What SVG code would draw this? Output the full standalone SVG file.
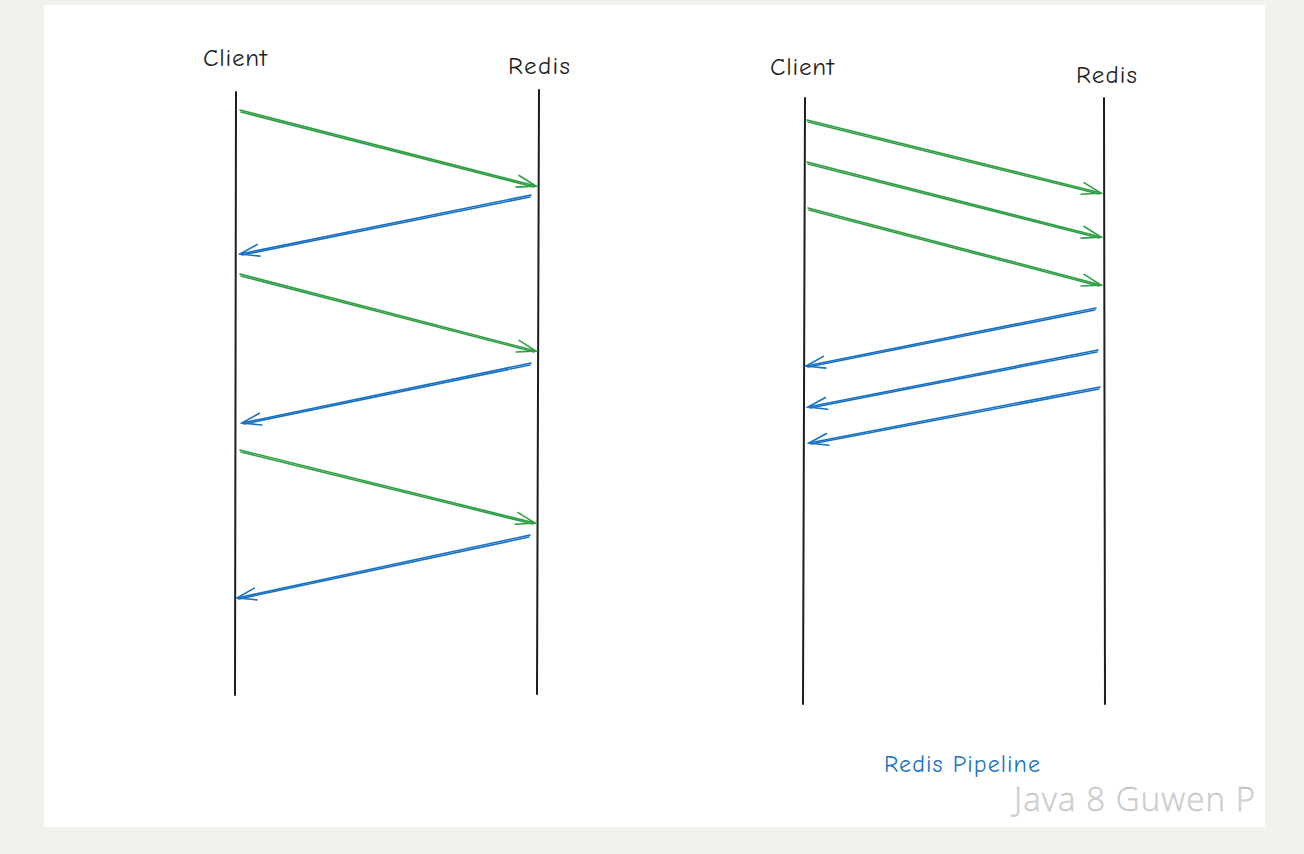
<svg xmlns="http://www.w3.org/2000/svg" width="1304" height="854" viewBox="0 0 1304 854">
<defs>
<style>
.life{stroke:#1e1e1e;stroke-width:2;fill:none;stroke-linecap:round}
.req{stroke:#2f9e44;stroke-width:1.6;fill:none;stroke-linecap:round}
.res{stroke:#1971c2;stroke-width:1.6;fill:none;stroke-linecap:round}
.lbl{font-family:"Comic Neue","Liberation Sans",sans-serif;font-size:25px;fill:#1e1e1e}
.cap{font-family:"Comic Neue","Liberation Sans",sans-serif;font-size:24px;fill:#1971c2}
.wm{font-family:"Open Sans","Noto Sans",sans-serif;font-size:33px;font-weight:300;fill:#d4d4d4;stroke:#b0b0b0;stroke-width:0.3}
</style>
<marker id="ag" viewBox="-20 -8 22 16" refX="0" refY="0" markerWidth="22" markerHeight="16" markerUnits="userSpaceOnUse" orient="auto">
<path d="M-19,-6 L0,0 L-19,6" fill="none" stroke="#2f9e44" stroke-width="1.6" stroke-linecap="round"/>
</marker>
<marker id="ab" viewBox="-20 -8 22 16" refX="0" refY="0" markerWidth="22" markerHeight="16" markerUnits="userSpaceOnUse" orient="auto">
<path d="M-19,-6 L0,0 L-19,6" fill="none" stroke="#1971c2" stroke-width="1.6" stroke-linecap="round"/>
</marker>
</defs>
<rect x="0" y="0" width="1304" height="854" fill="#f2f1ed"/>
<rect x="44" y="5" width="1221" height="822" fill="#ffffff"/>

<g id="left-client">
<line class="life" x1="236" y1="92" x2="235" y2="695"/>
<text class="lbl" x="203" y="66" textLength="64">Client</text>
</g>
<g id="left-redis">
<line class="life" x1="539" y1="90" x2="537" y2="694"/>
<text class="lbl" x="508" y="74" textLength="62">Redis</text>
</g>
<g id="right-client">
<line class="life" x1="805" y1="98" x2="803" y2="704"/>
<text class="lbl" x="770" y="75" textLength="64">Client</text>
</g>
<g id="right-redis">
<line class="life" x1="1104" y1="98" x2="1105" y2="704"/>
<text class="lbl" x="1076" y="83" textLength="61">Redis</text>
</g>

<g id="connectors">
<line class="req" x1="240" y1="110" x2="536" y2="186" marker-end="url(#ag)"/>
<line class="req" x1="241" y1="112" x2="534" y2="187"/>
<line class="res" x1="531" y1="195" x2="240" y2="254" marker-end="url(#ab)"/>
<line class="res" x1="530" y1="197" x2="242" y2="255"/>
<line class="req" x1="240" y1="274" x2="536" y2="351" marker-end="url(#ag)"/>
<line class="req" x1="241" y1="276" x2="534" y2="352"/>
<line class="res" x1="531" y1="363" x2="242" y2="423" marker-end="url(#ab)"/>
<line class="res" x1="530" y1="365" x2="244" y2="424"/>
<line class="req" x1="240" y1="450" x2="535" y2="523" marker-end="url(#ag)"/>
<line class="req" x1="241" y1="452" x2="533" y2="524"/>
<line class="res" x1="530" y1="535" x2="237" y2="598" marker-end="url(#ab)"/>
<line class="res" x1="529" y1="537" x2="239" y2="599"/>

<line class="req" x1="807" y1="120" x2="1101" y2="193" marker-end="url(#ag)"/>
<line class="req" x1="808" y1="122" x2="1099" y2="194"/>
<line class="req" x1="807" y1="162" x2="1101" y2="237" marker-end="url(#ag)"/>
<line class="req" x1="808" y1="164" x2="1099" y2="238"/>
<line class="req" x1="808" y1="208" x2="1101" y2="285" marker-end="url(#ag)"/>
<line class="req" x1="809" y1="210" x2="1099" y2="286"/>
<line class="res" x1="1096" y1="308" x2="806" y2="366" marker-end="url(#ab)"/>
<line class="res" x1="1095" y1="310" x2="808" y2="367"/>
<line class="res" x1="1098" y1="350" x2="808" y2="407" marker-end="url(#ab)"/>
<line class="res" x1="1097" y1="352" x2="810" y2="408"/>
<line class="res" x1="1100" y1="387" x2="809" y2="443" marker-end="url(#ab)"/>
<line class="res" x1="1099" y1="389" x2="811" y2="444"/>
</g>

<text class="cap" x="884" y="772" textLength="156">Redis Pipeline</text>
<text class="wm" x="1014" y="811" textLength="241">Java 8 Guwen P</text>
</svg>
